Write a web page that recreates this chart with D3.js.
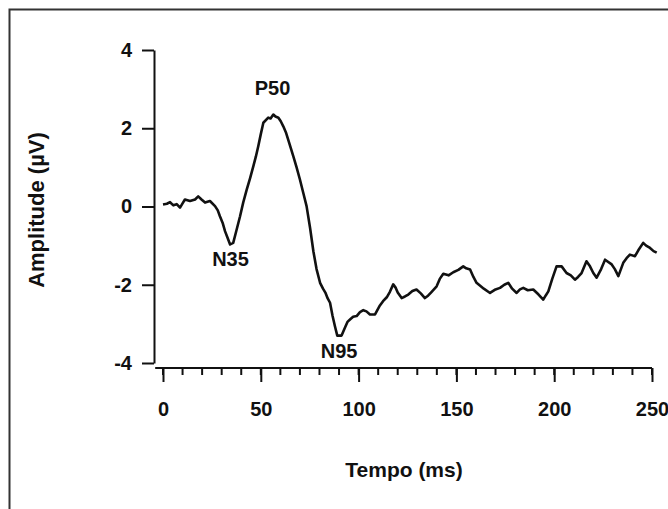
<!DOCTYPE html>
<html>
<head>
<meta charset="utf-8">
<script src="https://cdn.jsdelivr.net/npm/d3@7"></script>
<style>
  body { margin: 0; background: #fff; }
  text { font-family: "Liberation Sans", Arial, sans-serif; font-weight: bold; fill: #111; }
</style>
</head>
<body>
<div id="chart"></div>
<script>
// time (ms) and amplitude (uV)
var tempo = [0, 2, 3.6, 5.3, 7, 8.7, 10, 11.2, 13.8, 16.4, 18, 19.7, 21.5, 24, 26.6, 28, 29.1, 30.5, 31.7, 33, 34.3, 35.9,
    37.5, 39.4, 41, 42.8, 44.5, 46.2, 47.5, 48.7, 50, 51.3, 53.8, 55, 56.4, 57.5, 59, 60.2, 61.5, 62.8, 64, 65.3, 66.6,
    68.3, 70, 71.7, 73.4, 75.2, 76.9, 78.5, 80.3, 81.8, 83, 84.2, 85.4, 86.7, 87.9, 89.1, 91.3, 93, 94.3, 95.6, 97.2,
    99, 100.7, 102.4, 104, 105.8, 108.4, 110.9, 112.5, 114.4, 116, 117.7, 119, 120, 122, 123.7, 125.4, 127.5,
    129.6, 131.8, 133.9, 135.5, 137, 139.9, 141.5, 143.3, 146, 148.4, 151, 153.5, 155, 157, 158.7, 160.3, 162, 164,
    167.2, 170, 172.3, 174.5, 176.5, 178.5, 180.8, 182.5, 184.2, 186.5, 189.3, 192, 194.4, 195.6, 197, 199, 201.2,
    203.8, 206.3, 208.5, 210.6, 212.2, 214, 216.5, 218.3, 220, 221.7, 224, 226, 229.4, 231, 232.8, 235.3, 237,
    238.7, 241.3, 243, 245.5, 247, 249, 250.8, 252.4];
var amplitude = [0.05, 0.07, 0.11, 0.03, 0.06, -0.03, 0.08, 0.18, 0.14, 0.18, 0.26, 0.18, 0.1, 0.14, 0.01, -0.1, -0.25, -0.42, -0.63, -0.8, -0.97, -0.93,
    -0.62, -0.25, 0.1, 0.43, 0.72, 1.03, 1.28, 1.54, 1.85, 2.14, 2.27, 2.25, 2.35, 2.3, 2.27, 2.18, 2.05, 1.9, 1.71, 1.5, 1.29,
    1.0, 0.69, 0.35, 0.01, -0.55, -1.15, -1.6, -1.95, -2.1, -2.2, -2.35, -2.46, -2.8, -3.06, -3.3, -3.3, -3.1, -2.95, -2.89, -2.82,
    -2.8, -2.7, -2.65, -2.68, -2.76, -2.76, -2.53, -2.42, -2.32, -2.18, -1.99, -2.08, -2.2, -2.34, -2.3, -2.25, -2.16,
    -2.12, -2.22, -2.34, -2.28, -2.2, -2.04, -1.85, -1.72, -1.76, -1.68, -1.62, -1.53, -1.58, -1.61, -1.8, -1.95, -2.02, -2.1,
    -2.21, -2.12, -2.08, -2.0, -1.95, -2.1, -2.21, -2.12, -2.08, -2.14, -2.12, -2.25, -2.38, -2.28, -2.17, -1.85, -1.53,
    -1.53, -1.7, -1.76, -1.87, -1.8, -1.7, -1.4, -1.53, -1.7, -1.82, -1.6, -1.36, -1.48, -1.6, -1.78, -1.44, -1.32,
    -1.23, -1.27, -1.12, -0.93, -1.0, -1.06, -1.14, -1.18];

var yTicks = [-4, -2, 0, 2, 4];
var xMajor = [0, 50, 100, 150, 200, 250];
var xMinor = d3.range(0, 251, 10);

var peaks = [
    { nome: "P50", t: 56, v: 2.35, pos: "above" },
    { nome: "N35", t: 34.5, v: -0.97, pos: "below" },
    { nome: "N95", t: 90, v: -3.3, pos: "below" }
];

var width = 668, height = 509;

var svg = d3.select("#chart").append("svg")
    .attr("width", width).attr("height", height);

// frame (only left and top edges are visible in the crop)
svg.append("path")
    .attr("d", "M9.5,509V9.5H668")
    .attr("fill", "none").attr("stroke", "#333").attr("stroke-width", 2);

var x = d3.scaleLinear().domain([0, 250]).range([163, 652]);
var y = d3.scaleLinear().domain([-4, 4]).range([363, 50]);

var fmt = function (d) { return String(d); }; // plain hyphen, not U+2212

// y axis
var yAxis = svg.append("g")
    .attr("transform", "translate(154,0)")
    .call(d3.axisLeft(y).tickValues(yTicks).tickFormat(fmt).tickSize(12).tickSizeOuter(0).tickPadding(10));
yAxis.selectAll("path, line").attr("stroke", "#111").attr("stroke-width", 2);
yAxis.selectAll("text").attr("font-size", 20).attr("font-family", null).attr("fill", "#111");

// x axis: minor ticks, then major with labels
var xAxisY = 368;
var gx = svg.append("g").attr("transform", "translate(0," + xAxisY + ")");
gx.append("line")
    .attr("x1", x(-4)).attr("x2", x(250))
    .attr("stroke", "#111").attr("stroke-width", 2);
gx.selectAll("line.minor").data(xMinor).enter().append("line")
    .attr("class", "minor")
    .attr("x1", x).attr("x2", x)
    .attr("y1", 0).attr("y2", 7)
    .attr("stroke", "#111").attr("stroke-width", 2);
var xAxis = gx.append("g")
    .call(d3.axisBottom(x).tickValues(xMajor).tickFormat(fmt).tickSize(14).tickPadding(20));
xAxis.select(".domain").remove();
xAxis.selectAll("line").attr("stroke", "#111").attr("stroke-width", 2);
xAxis.selectAll("text").attr("font-size", 20).attr("font-family", null).attr("fill", "#111");

// axis titles
svg.append("text")
    .attr("x", 404).attr("y", 477)
    .attr("text-anchor", "middle").attr("font-size", 21)
    .text("Tempo (ms)");
svg.append("text")
    .attr("transform", "translate(44,210) rotate(-90)")
    .attr("text-anchor", "middle").attr("font-size", 22)
    .text("Amplitude (\u00b5V)");

// waveform
var pts = tempo.map(function (t, i) { return [t, amplitude[i]]; });
var line = d3.line()
    .x(function (d) { return x(d[0]); })
    .y(function (d) { return y(d[1]); });
svg.append("path").datum(pts)
    .attr("d", line)
    .attr("fill", "none").attr("stroke", "#111")
    .attr("stroke-width", 2.6).attr("stroke-linejoin", "round");

// peak labels
svg.selectAll("text.peak").data(peaks).enter().append("text")
    .attr("class", "peak")
    .attr("x", function (d) { return x(d.t); })
    .attr("y", function (d) { return y(d.v) + (d.pos == "above" ? -20 : 22); })
    .attr("text-anchor", "middle").attr("font-size", 20)
    .text(function (d) { return d.nome; });
</script>
</body>
</html>
